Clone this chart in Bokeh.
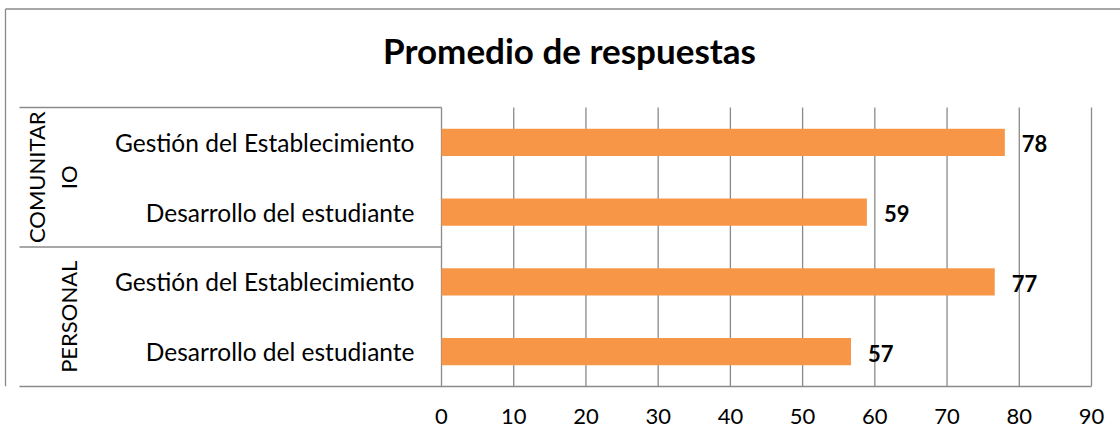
from math import pi
from bokeh.plotting import figure
from bokeh.models import Range1d, FixedTicker, ColumnDataSource
from bokeh.embed import file_html
from bokeh.resources import INLINE
from bokeh.core.properties import value

# ---------------- data ----------------
title_text = "Promedio de respuestas"
groups = ["COMUNITARIO", "COMUNITARIO", "PERSONAL", "PERSONAL"]
items = ["Gestión del Establecimiento", "Desarrollo del estudiante",
         "Gestión del Establecimiento", "Desarrollo del estudiante"]
values = [78.0, 58.9, 76.6, 56.7]
value_labels = ["78", "59", "77", "57"]
x_ticks = [0, 10, 20, 30, 40, 50, 60, 70, 80, 90]
group_names = ["COMUNITARIO", "PERSONAL"]
group_label_lines = [["COMUNITAR", "IO"], ["PERSONAL"]]

# ---------------- style / layout ----------------
FONT = "Lato"
GRAY = "#8a8a8a"
LW = 1.3
BAR = "#F79646"
W, H = 1120, 446
# pixel layout of the value area (0..90 across, categories down)
X0_PX, X90_PX = 441, 1091
YTOP_PX, YBOT_PX = 107, 386
n = len(items)
XMAX = x_ticks[-1]
sx = (X90_PX - X0_PX) / XMAX          # px per value unit
sy = (YBOT_PX - YTOP_PX) / n          # px per category slot


def dx(page_x):
    return (page_x - X0_PX) / sx


def dy(page_y):
    return (YBOT_PX - page_y) / sy


ypos = [n - i - 0.5 for i in range(n)]  # category slots, top to bottom
src = ColumnDataSource(dict(y=ypos, v=values, lab=value_labels, item=items))

p = figure(width=W, height=H,
           x_range=Range1d(dx(0), dx(W)), y_range=Range1d(0, dy(0)),
           output_backend="svg", toolbar_location=None, min_border=0,
           min_border_bottom=H - YBOT_PX)
p.outline_line_color = None
p.background_fill_color = "white"
p.border_fill_color = "white"

# vertical grid lines, limited to the category area
for g in p.grid:
    g.visible = False
p.segment(x0=x_ticks, x1=x_ticks, y0=[0] * len(x_ticks), y1=[n] * len(x_ticks),
          line_color=GRAY, line_width=LW)

# bars + value labels
p.hbar(y="y", right="v", left=0, height=0.39, source=src,
       fill_color=BAR, line_color=None)
p.text(x="v", y="y", text="lab", source=src, x_offset=17, y_offset=1.5,
       text_baseline="middle", text_align="left",
       text_font=value(FONT), text_font_style="bold",
       text_font_size="22px", text_color="black")

# category labels (left of the value axis)
p.text(x=0, y="y", text="item", source=src, x_offset=-27,
       text_baseline="middle", text_align="right",
       text_font=value(FONT), text_font_size="24.5px", text_color="black")

# x axis below the category area
xa = p.xaxis[0]
xa.bounds = (dx(19), XMAX)
xa.ticker = FixedTicker(ticks=x_ticks, minor_ticks=[])
xa.axis_line_color = GRAY
xa.axis_line_width = LW
xa.major_tick_line_color = None
xa.minor_tick_line_color = None
xa.major_tick_out = 0
xa.major_tick_in = 0
xa.minor_tick_out = 0
xa.minor_tick_in = 0
xa.major_label_standoff = 22
xa.major_label_text_font = FONT
xa.major_label_text_font_size = "22px"
xa.major_label_text_color = "black"
p.yaxis.visible = False

# group box lines (top, between groups) and outer border
sizes = [groups.count(g) for g in group_names]
bounds_y = [n]
acc = n
for s in sizes:
    acc -= s
    bounds_y.append(acc)
hy = [b for b in bounds_y if b > 0]
p.segment(x0=[dx(19)] * len(hy), x1=[0] * len(hy), y0=hy, y1=hy,
          line_color=GRAY, line_width=LW)
p.segment(x0=[dx(5), dx(5)], x1=[dx(W), dx(5)],
          y0=[dy(8.5), dy(8.5)], y1=[dy(8.5), 0],
          line_color=GRAY, line_width=LW)

# rotated group labels
g_x = [[36, 68], [68]]
g_centers = [(bounds_y[i] + bounds_y[i + 1]) / 2 for i in range(len(group_names))]
tx, ty, tt = [], [], []
for lines, xs, yc in zip(group_label_lines, g_x, g_centers):
    for t, gx in zip(lines, xs):
        tx.append(dx(gx))
        ty.append(yc)
        tt.append(t)
p.text(x=tx, y=ty, text=tt, angle=pi / 2, text_align="center",
       text_baseline="alphabetic", text_font=value(FONT),
       text_font_size="22px", text_color="black")

# title
p.text(x=[dx(569)], y=[dy(49)], text=[title_text], text_align="center",
       text_baseline="alphabetic", text_font=value(FONT),
       text_font_style="bold", text_font_size="35px", text_color="black")

open("out.html", "w").write(file_html(p, INLINE))
